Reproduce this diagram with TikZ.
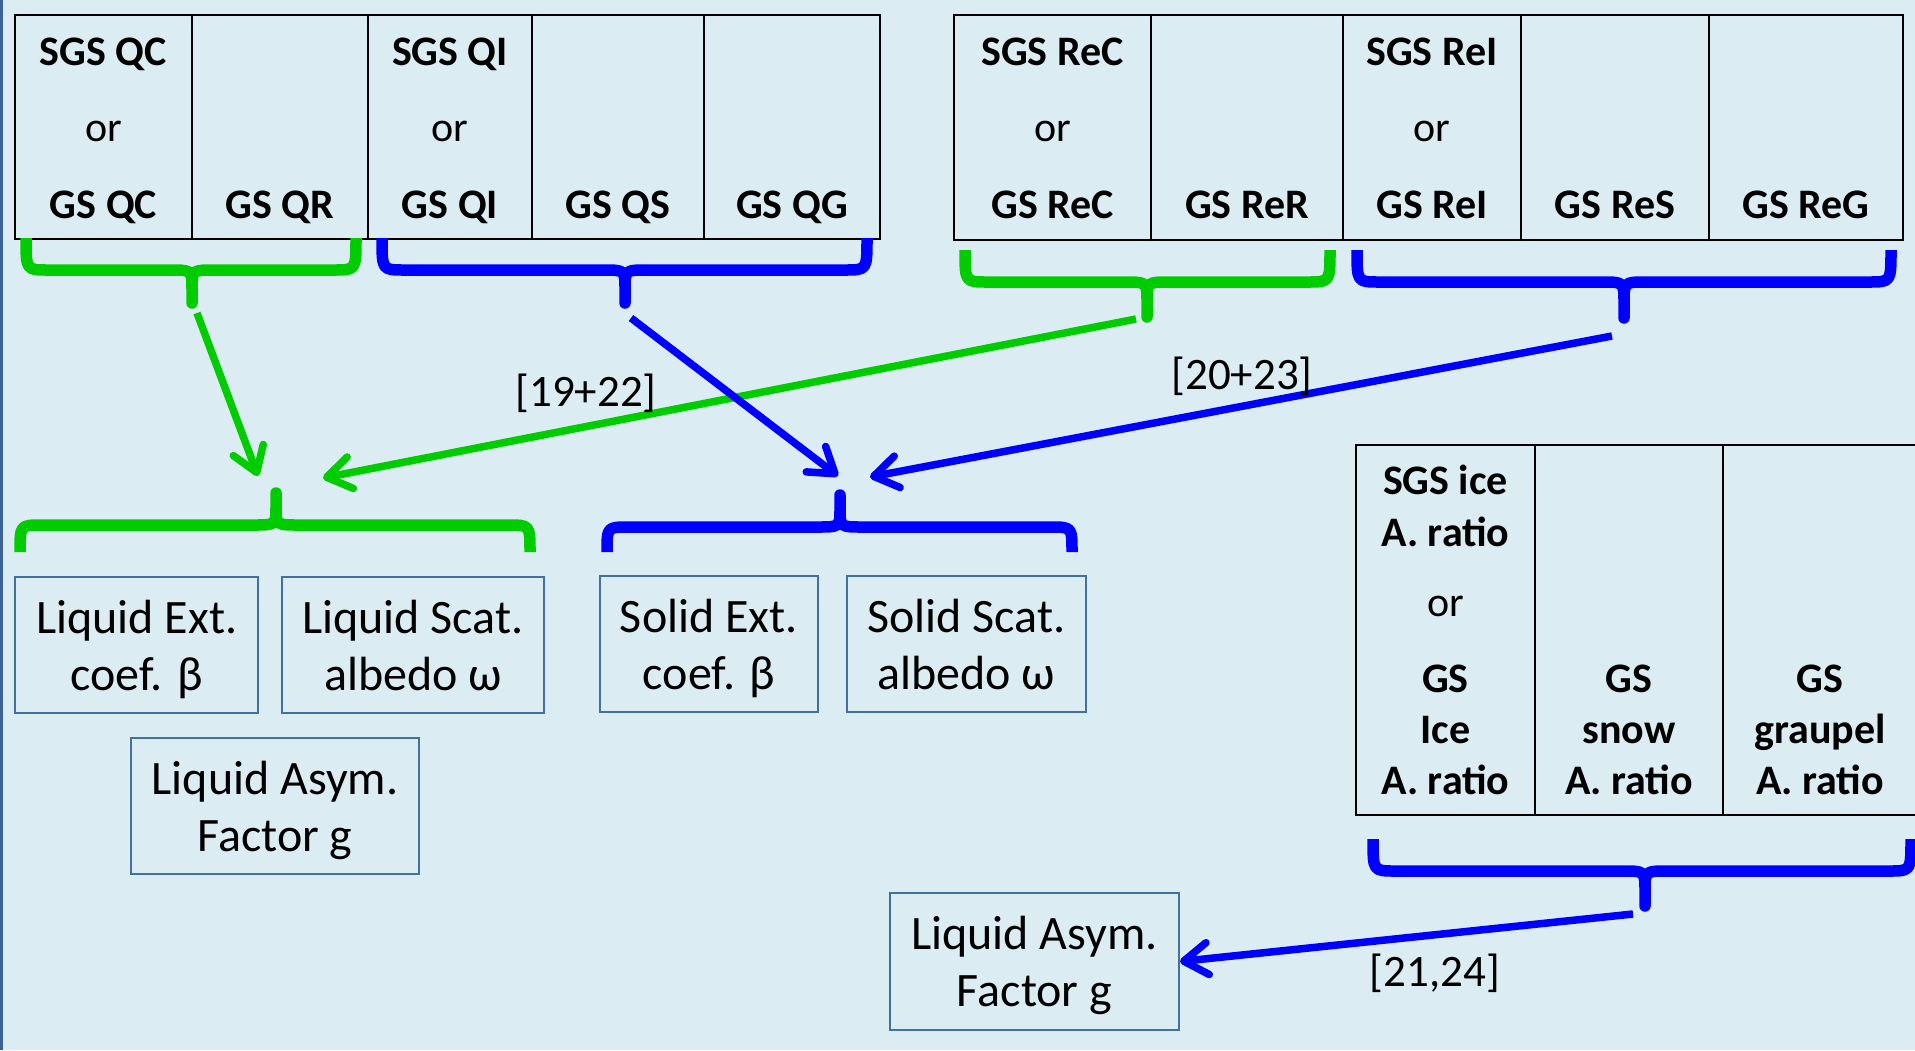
\documentclass[tikz,border=0pt]{standalone}
\usepackage{fontspec}
\setmainfont{Carlito}
\usetikzlibrary{arrows.meta}
\definecolor{bgc}{RGB}{219,237,243}
\definecolor{grn}{RGB}{0,204,0}
\definecolor{blu}{RGB}{0,0,255}
\definecolor{boxc}{RGB}{65,113,156}
\definecolor{edgec}{RGB}{59,98,150}
\tikzset{
 grid/.style={line width=2.8pt, black},
 tb/.style={font=\fontsize{42}{50}\selectfont\bfseries, anchor=base, inner sep=0pt},
 tr/.style={font=\fontsize{42}{50}\selectfont, anchor=base, inner sep=0pt},
 pbox/.style={draw=boxc, line width=2pt, align=center, font=\fontsize{48}{57}\selectfont, inner sep=0pt, text depth=0pt},
 lbl/.style={font=\fontsize{45}{54}\selectfont, inner sep=0pt},
 brc/.style={line width=11.5pt, line join=round, line cap=butt},
 arr/.style={line width=7.5pt, -{Straight Barb[length=24pt,width=32pt,round]}},
}
% colour, x1, x2, xc, yend, ymid, ytip
\newcommand\mybrace[7]{%
 \draw[brc,#1] (#2,#5) .. controls (#2,#6) and (#2,#6) .. ({#2+22},#6) -- ({#4-22},#6)
   .. controls (#4,#6) and (#4,#6) .. (#4,{#6+0.6*(#7-#6)}) -- (#4,#7)
   -- (#4,{#6+0.6*(#7-#6)}) .. controls (#4,#6) and (#4,#6) .. ({#4+22},#6)
   -- ({#3-22},#6) .. controls (#3,#6) and (#3,#6) .. (#3,#5);}
\begin{document}
\begin{tikzpicture}[x=1pt,y=-1pt]
\fill[bgc] (0,0) rectangle (1915,1050);
\useasboundingbox (0,0) rectangle (1915,1050);
\fill[edgec] (0,0) rectangle (3,1050);

% ---------- top-left table ----------
\draw[grid] (15,15) rectangle (880,239);
\foreach \x in {192,368,532,704} \draw[grid] (\x,15) -- (\x,239);
\node[tb] (qc1) at (103.5,65) {SGS QC};
\node[tr] (qc2) at (103.5,141.7) {or};
\node[tb] (qc3) at (103.5,218) {GS QC};
\node[tb] (qr) at (280,218) {GS QR};
\node[tb] (qi1) at (450,65) {SGS QI};
\node[tr] (qi2) at (450,141.7) {or};
\node[tb] (qi3) at (450,218) {GS QI};
\node[tb] (qs) at (618,218) {GS QS};
\node[tb] (qg) at (792,218) {GS QG};

% ---------- top-right table ----------
\draw[grid] (954,15) rectangle (1903,240);
\foreach \x in {1151,1343,1521,1709} \draw[grid] (\x,15) -- (\x,240);
\node[tb] (rc1) at (1052.5,65) {SGS ReC};
\node[tr] (rc2) at (1052.5,141.7) {or};
\node[tb] (rc3) at (1052.5,218) {GS ReC};
\node[tb] (rr) at (1247,218) {GS ReR};
\node[tb] (ri1) at (1432,65) {SGS ReI};
\node[tr] (ri2) at (1432,141.7) {or};
\node[tb] (ri3) at (1432,218) {GS ReI};
\node[tb] (rs) at (1615,218) {GS ReS};
\node[tb] (rg) at (1806,218) {GS ReG};

% ---------- lower-right table ----------
\draw[grid] (1930,445) -- (1356,445) -- (1356,815) -- (1930,815);
\foreach \x in {1535,1723} \draw[grid] (\x,445) -- (\x,815);
\node[tb] (ar1) at (1445.5,494) {SGS ice};
\node[tb] (ar2) at (1445.5,546.5) {A. ratio};
\node[tr] (ar3) at (1445.5,616) {or};
\node[tb] (ar4) at (1445.5,692.5) {GS};
\node[tb] (ar5) at (1445.5,743.5) {Ice};
\node[tb] (ar6) at (1445.5,794) {A. ratio};
\node[tb] (as1) at (1629,692.5) {GS};
\node[tb] (as2) at (1629,743.5) {snow};
\node[tb] (as3) at (1629,794) {A. ratio};
\node[tb] (ag1) at (1820,692.5) {GS};
\node[tb] (ag2) at (1820,743.5) {graupel};
\node[tb] (ag3) at (1820,794) {A. ratio};

% ---------- braces ----------
\mybrace{grn}{26}{356}{192}{238}{270}{303}
\mybrace{blu}{382}{867}{625}{238}{270}{303}
\mybrace{grn}{965}{1330}{1147}{250}{282}{317}
\mybrace{blu}{1357}{1891}{1624}{250}{282}{318}
\mybrace{grn}{20}{530}{276}{552}{525}{493}
\mybrace{blu}{607}{1072}{840}{552}{527}{495}
\mybrace{blu}{1373}{1911}{1645}{839}{871}{906}

% ---------- property boxes ----------
\node[pbox, minimum width=242.5pt, minimum height=136pt] (lext) at (136.7,645) {Liquid Ext.\\coef. β};
\node[pbox, minimum width=262pt, minimum height=136pt] (lscat) at (413,645) {Liquid Scat.\\albedo ω};
\node[pbox, minimum width=218pt, minimum height=136pt] (sext) at (709,644) {Solid Ext.\\coef. β};
\node[pbox, minimum width=239pt, minimum height=136pt] (sscat) at (966.5,644) {Solid Scat.\\albedo ω};
\node[pbox, minimum width=288.5pt, minimum height=136pt] (lasym) at (275,806) {Liquid Asym.\\Factor g};
\node[pbox, minimum width=289pt, minimum height=137pt] (lasymb) at (1034.5,961.5) {Liquid Asym.\\Factor g};

% ---------- arrows ----------
\coordinate (g1s) at (197,313);
\coordinate (g1e) at (258,476);
\coordinate (g2s) at (1136,319);
\coordinate (g2e) at (323,478);
\coordinate (b1s) at (631,318);
\coordinate (b1e) at (838,476);
\coordinate (b2s) at (1612,336);
\coordinate (b2e) at (870,477);
\coordinate (b3s) at (1633,914);
\draw[arr,grn] (g1s) -- (g1e);
\draw[arr,grn] (g2s) -- (g2e);
\draw[arr,blu] (b1s) -- (b1e);
\draw[arr,blu] (b2s) -- (b2e);
\draw[arr,blu] (b3s) -- (lasymb.east);

% ---------- labels ----------
\node[lbl] (l1) at (586,393) {[19+22]};
\node[lbl] (l2) at (1242,376) {[20+23]};
\node[lbl] (l3) at (1435,973) {[21,24]};
\end{tikzpicture}
\end{document}
